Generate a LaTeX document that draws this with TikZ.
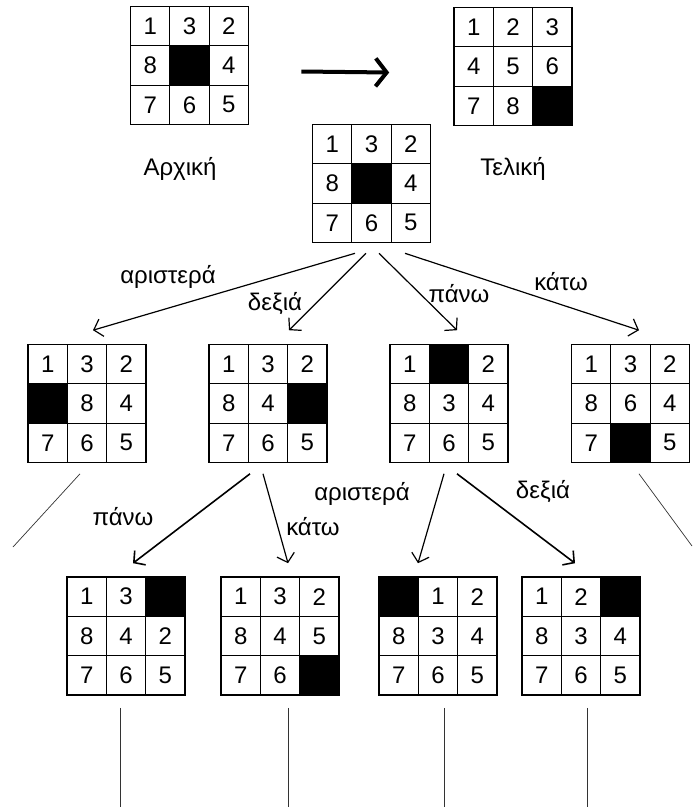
\documentclass[tikz,border=0pt]{standalone}
\usepackage{fontspec}
\setmainfont{Liberation Sans}
\usetikzlibrary{positioning,arrows.meta}

% one 3x3 board: name, x, y, cells (0 = empty square)
\newcommand{\puzzle}[4]{%
  \foreach \v [count=\k from 0] in {#4}{%
    \pgfmathtruncatemacro{\rw}{div(\k,3)}%
    \pgfmathtruncatemacro{\cl}{mod(\k,3)}%
    \ifnum\v=0
      \node[hole] (#1-\k) at ({#2+(\cl-1)*39.3},{#3+(\rw-1)*39.3}) {};
    \else
      \node[cell] (#1-\k) at ({#2+(\cl-1)*39.3},{#3+(\rw-1)*39.3}) {\v};
    \fi}
  \node[brd] (#1) at (#2,#3) {};}

\begin{document}
\begin{tikzpicture}[x=1pt,y=-1pt,font=\fontsize{24}{28}\selectfont,
  cell/.style={draw,line width=1pt,minimum size=39.3pt,inner sep=0pt},
  hole/.style={cell,fill=black},
  brd/.style={draw,line width=1.6pt,minimum size=118pt,inner sep=0pt},
  ar/.style={-{Straight Barb[length=8pt,width=18pt]},line width=1.2pt},
  ln/.style={line width=.7pt,black!80},
  lbl/.style={anchor=base}]
\useasboundingbox (0,0) rectangle (693,807);
% start and goal
\puzzle{start}{189.5}{65.5}{1,3,2,8,0,4,7,6,5}
\puzzle{goal}{513}{66.5}{1,2,3,4,5,6,7,8,0}
\draw[line width=4pt,-{Straight Barb[length=11pt,width=28pt]}]
  ([xshift=52pt,yshift=-6pt]start.east) -- ([xshift=-64pt,yshift=-6pt]goal.west);
\node[lbl] (lstart) at (180,175) {Αρχική};
\node[lbl] (lgoal) at (513,175) {Τελική};
% tree
\puzzle{root}{371.5}{183.5}{1,3,2,8,0,4,7,6,5}
\puzzle{a}{87}{403.5}{1,3,2,0,8,4,7,6,5}
\puzzle{b}{268}{403.5}{1,3,2,8,4,0,7,6,5}
\puzzle{c}{449}{403.5}{1,0,2,8,3,4,7,6,5}
\puzzle{d}{630.5}{403.5}{1,3,2,8,6,4,7,0,5}
\puzzle{ba}{126}{636}{1,3,0,8,4,2,7,6,5}
\puzzle{bb}{280}{636}{1,3,2,8,4,5,7,6,0}
\puzzle{ca}{438}{636}{0,1,2,8,3,4,7,6,5}
\puzzle{cb}{581}{636}{1,2,0,8,3,4,7,6,5}
\draw[ar] ([xshift=-16.5pt,yshift=-10pt]root.south) -- ([xshift=6pt,yshift=13.5pt]a.north);
\draw[ar] ([xshift=-5.5pt,yshift=-10pt]root.south) -- ([xshift=21pt,yshift=13.5pt]b.north);
\draw[ar] ([xshift=7.5pt,yshift=-10pt]root.south) -- ([xshift=8pt,yshift=13.5pt]c.north);
\draw[ar] ([xshift=33.5pt,yshift=-10pt]root.south) -- ([xshift=8.5pt,yshift=13.5pt]d.north);
\node[lbl] at (168,283) {αριστερά};
\node[lbl] at (275,310) {δεξιά};
\node[lbl] at (459,302) {πάνω};
\node[lbl] at (561,290) {κάτω};
\draw[ar,line width=1.6pt] ([xshift=-18pt,yshift=-10.5pt]b.south) -- ([xshift=7pt,yshift=13pt]ba.north);
\draw[ar] ([xshift=-5pt,yshift=-10.5pt]b.south) -- ([xshift=8pt,yshift=13pt]bb.north);
\draw[ar] ([xshift=-5pt,yshift=-10.5pt]c.south) -- ([xshift=-20pt,yshift=13pt]ca.north);
\draw[ar,line width=1.6pt] ([xshift=8pt,yshift=-10.5pt]c.south) -- ([xshift=-6pt,yshift=13pt]cb.north);
\node[lbl] at (123,525) {πάνω};
\node[lbl] at (313,535) {κάτω};
\node[lbl] at (362,500) {αριστερά};
\node[lbl] at (543,498) {δεξιά};
% branches that go on
\coordinate (ea) at (13,547);
\coordinate (ed) at (692,546);
\coordinate (eba) at (120,807);
\coordinate (ebb) at (288,807);
\coordinate (eca) at (444,807);
\coordinate (ecb) at (587,807);
\draw[ln] ([xshift=-7pt,yshift=-10.5pt]a.south) -- (ea);
\draw[ln] ([xshift=8.5pt,yshift=-10.5pt]d.south) -- (ed);
\draw[ln] ([xshift=-6pt,yshift=-12pt]ba.south) -- (eba);
\draw[ln] ([xshift=8pt,yshift=-12pt]bb.south) -- (ebb);
\draw[ln] ([xshift=6pt,yshift=-12pt]ca.south) -- (eca);
\draw[ln] ([xshift=6pt,yshift=-12pt]cb.south) -- (ecb);
\end{tikzpicture}
\end{document}
